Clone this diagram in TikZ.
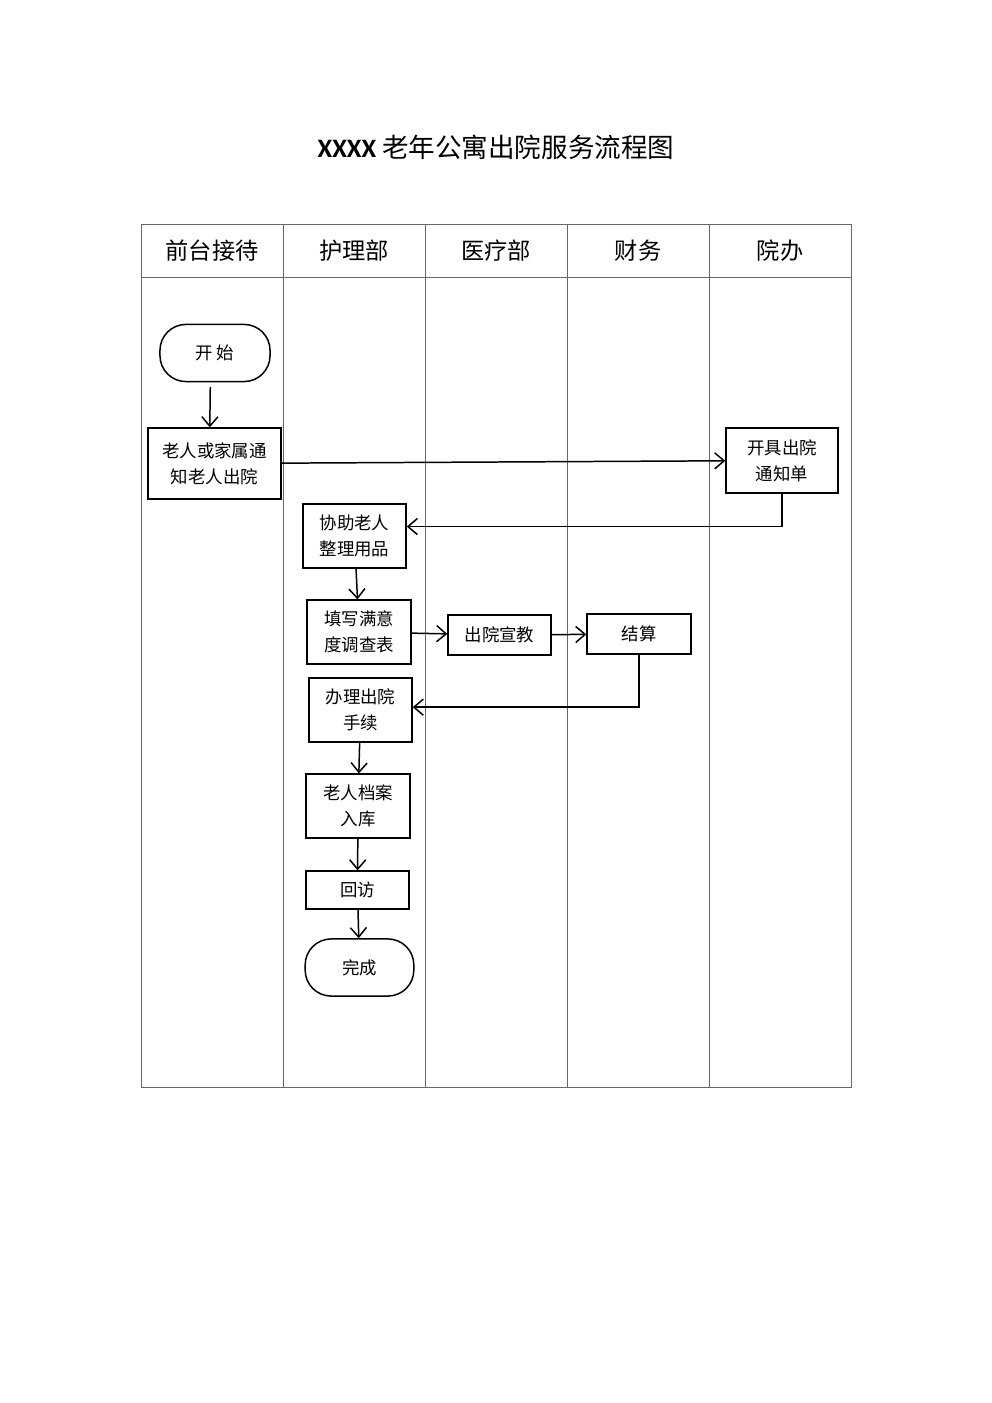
\documentclass[tikz,border=0pt]{standalone}
\usepackage{fontspec}
\setmainfont{Noto Sans CJK SC}
\newfontfamily\titlelatin{Carlito}
\usetikzlibrary{positioning,calc,arrows.meta}

\begin{document}
\begin{tikzpicture}[x=0.21169mm,y=-0.21169mm,
    box/.style={draw,line width=0.9pt,align=center,inner sep=0pt,font=\fontsize{10.5}{15.5}\selectfont},
    term/.style={box,rounded corners=5.5mm},
    flow/.style={line width=0.9pt,-{Straight Barb[length=2mm,width=3.4mm]}},
    lane/.style={line width=0.5pt,black!60}]
    \useasboundingbox (0,0) rectangle (992,1403);

    % Title
    \node (title) at (496,147) {\fontsize{16}{19}\selectfont{\titlelatin\bfseries XXXX} 老年公寓出院服务流程图};

    % Lanes
    \draw[lane] (141,224) rectangle (851,1087);
    \draw[lane] (141,277) -- (851,277);
    \foreach \x in {283,425,567,709}
        \draw[lane] (\x,224) -- (\x,1087);
    \foreach \x/\name [count=\i] in {212/前台接待,354/护理部,496/医疗部,638/财务,780/院办}
        \node[font=\fontsize{14}{16}\selectfont] (head\i) at (\x,251) {\name};

    % Steps
    \node[term,minimum width=23.3mm,minimum height=12.1mm] (start) at (215,353) {开 始};
    \node[box,minimum width=28.2mm,minimum height=15mm] (notify) at (214.5,463.5) {老人或家属通\\知老人出院};
    \node[box,minimum width=23.7mm,minimum height=13.8mm] (issue) at (782,460.5) {开具出院\\通知单};
    \node[box,minimum width=21.8mm,minimum height=13.5mm] (assist) at (354.5,536) {协助老人\\整理用品};
    \node[box,minimum width=22mm,minimum height=13.5mm] (survey) at (359,632) {填写满意\\度调查表};
    \node[box,minimum width=21.8mm,minimum height=8.5mm] (edu) at (499.5,635) {出院宣教};
    \node[box,minimum width=22mm,minimum height=8.5mm] (settle) at (639,634) {结算};
    \node[box,minimum width=21.8mm,minimum height=13.5mm] (proc) at (360.5,710) {办理出院\\手续};
    \node[box,minimum width=22mm,minimum height=13.5mm] (archive) at (358,806) {老人档案\\入库};
    \node[box,minimum width=21.8mm,minimum height=8mm] (visit) at (357.5,890) {回访};
    \node[term,minimum width=23mm,minimum height=12.1mm] (done) at (359.5,967.5) {完成};

    % Connectors
    \draw[flow] ([xshift=-1mm,yshift=-1mm]start.south) -- ([xshift=-1mm]notify.north);
    \draw[flow] (notify) -- (issue);
    \draw[flow] (issue.south) |- ([yshift=2mm]assist.east);
    \draw[flow] (assist) -- (survey);
    \draw[flow] (survey) -- (edu);
    \draw[flow] (edu) -- (settle);
    \draw[flow] (settle.south) |- ([yshift=0.6mm]proc.east);
    \draw[flow] (proc) -- (archive);
    \draw[flow] (archive) -- (visit);
    \draw[flow] (visit) -- (done);
\end{tikzpicture}
\end{document}
